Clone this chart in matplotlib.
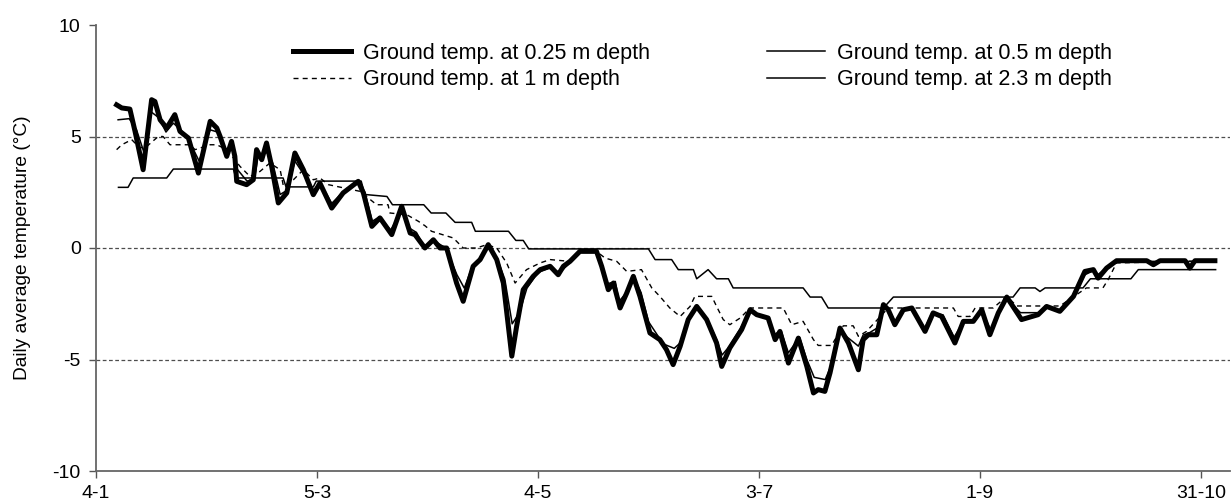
import matplotlib
matplotlib.use("Agg")
import matplotlib.pyplot as plt

plt.rcParams['font.family'] = ['Liberation Sans', 'DejaVu Sans']
plt.rcParams['axes.unicode_minus'] = False

# days counted from 4 January
tick_days = [0, 60, 120, 180, 240, 300]
tick_labels = ['4-1', '5-3', '4-5', '3-7', '1-9', '31-10']

# ground temperature at 0.25 m depth
days_025 = [5.6, 7.0, 9.2, 10.6, 12.8, 15.1, 16.0, 17.4, 19.2, 21.4, 22.8, 25.1, 27.8,
            31.0, 32.8, 33.7, 35.5, 36.8, 37.7, 38.2, 40.9, 42.7, 43.6, 45.0, 46.3, 47.7,
            49.5, 51.8, 54.0, 56.3, 59.0, 60.8, 64.0, 67.1, 71.2, 72.6, 74.9, 77.1, 80.3,
            83.0, 85.3, 86.6, 89.3, 91.6, 93.4, 95.2, 97.9, 99.7, 102.4, 104.3, 106.5,
            108.8, 110.6, 112.9, 114.2, 116.0, 118.7, 120.6, 123.3, 125.5, 126.9, 128.7,
            131.4, 135.9, 137.3, 139.1, 140.5, 142.3, 144.1, 145.9, 147.7, 150.4, 153.1,
            154.9, 156.7, 158.6, 160.8, 163.1, 165.8, 168.5, 169.9, 172.1, 175.3, 177.6,
            179.4, 182.5, 184.4, 185.7, 188.0, 190.7, 193.0, 194.8, 196.1, 197.9, 199.3,
            202.0, 204.3, 207.0, 208.3, 209.7, 212.0, 213.8, 215.1, 216.9, 219.2, 221.5,
            225.1, 227.3, 229.6, 233.2, 235.5, 238.2, 240.5, 242.7, 245.0, 247.3, 251.3,
            255.8, 258.1, 261.7, 265.4, 268.5, 270.8, 272.1, 274.4, 277.1, 285.3, 287.1,
            288.9, 295.7, 297.0, 298.4, 303.8]
temp_025 = [6.42, 6.28, 6.23, 5.23, 3.51, 6.65, 6.57, 5.75, 5.38, 5.98, 5.23, 4.93, 3.36,
            5.68, 5.38, 5.0, 4.11, 4.78, 4.11, 2.99, 2.84, 3.06, 4.41, 3.96, 4.71, 3.66,
            2.02, 2.47, 4.26, 3.51, 2.39, 2.91, 1.79, 2.47, 2.99, 2.47, 0.97, 1.35, 0.6,
            1.87, 0.67, 0.6, 0.0, 0.37, 0.0, 0.0, -1.57, -2.39, -0.82, -0.52, 0.15,
            -0.52, -1.57, -4.85, -3.52, -1.87, -1.27, -0.97, -0.82, -1.2, -0.82, -0.6,
            -0.15, -0.15, -0.82, -1.87, -1.57, -2.69, -2.02, -1.27, -2.17, -3.81, -4.11,
            -4.56, -5.23, -4.41, -3.21, -2.62, -3.21, -4.26, -5.31, -4.48, -3.66, -2.77,
            -2.99, -3.14, -4.11, -3.74, -5.16, -4.04, -5.31, -6.5, -6.35, -6.43, -5.6,
            -3.59, -4.26, -5.46, -4.11, -3.89, -3.89, -2.54, -2.77, -3.44, -2.77, -2.69,
            -3.74, -2.91, -3.07, -4.26, -3.29, -3.29, -2.77, -3.89, -2.91, -2.2, -3.21,
            -2.99, -2.62, -2.84, -2.17, -1.05, -0.97, -1.35, -0.9, -0.57, -0.57, -0.75,
            -0.57, -0.57, -0.9, -0.57, -0.57]

# ground temperature at 0.5 m depth
days_05 = [6, 9, 11, 13, 15, 17, 19, 21, 23, 25, 28, 31, 33, 35, 37, 38, 41, 43, 44, 45,
           46, 48, 50, 52, 54, 56, 59, 61, 64, 67, 71, 73, 75, 77, 80, 83, 85, 87, 89, 92,
           95, 98, 100, 102, 104, 106.5, 109, 111, 113, 115, 117, 120, 123, 126, 129, 131,
           136, 137, 139, 141, 142, 144, 146, 148, 150, 154, 157, 159, 161, 163, 166, 168.5,
           170, 172, 175, 177.6, 179, 182.5, 184, 186, 188, 191, 193, 195, 198, 199.5, 202,
           204, 207, 208.3, 210, 212, 214, 215, 217, 219, 221.5, 225, 227, 230, 233, 235.5,
           238, 240.5, 243, 245, 247, 251, 256, 258, 262, 265, 268.5, 271, 272, 274.4, 277,
           304]
temp_05 = [5.75, 5.8, 5.3, 4.3, 6.1, 5.85, 5.2, 5.6, 5.3, 4.9, 3.9, 5.3, 5.2, 4.4, 4.6,
           3.6, 3.0, 3.1, 4.1, 3.9, 4.4, 3.8, 2.4, 2.6, 3.9, 3.4, 2.6, 2.9, 2.0, 2.5, 2.9,
           2.5, 1.2, 1.4, 0.8, 1.7, 0.9, 0.7, 0.1, 0.3, 0.0, -1.2, -1.8, -0.9, -0.5, 0.1,
           -0.5, -1.4, -3.4, -2.9, -1.8, -1.1, -0.9, -1.1, -0.6, -0.2, -0.2, -0.7, -1.6,
           -1.5, -2.4, -2.0, -1.3, -2.0, -3.3, -4.3, -4.5, -4.2, -3.2, -2.7, -3.2, -4.1,
           -4.8, -4.4, -3.6, -2.8, -3.0, -3.1, -3.9, -3.7, -4.7, -4.0, -5.0, -5.8, -5.9,
           -5.3, -3.6, -4.0, -4.4, -3.9, -3.8, -3.6, -2.6, -2.7, -3.3, -2.8, -2.7, -3.6,
           -2.9, -3.0, -4.0, -3.3, -3.3, -2.8, -3.7, -2.9, -2.2, -2.9, -2.9, -2.6, -2.8,
           -2.2, -1.2, -1.0, -1.2, -0.9, -0.6, -0.6]

# ground temperature at 1 m depth
days_1 = [5.6, 7.0, 9.7, 11.9, 14.1, 16.9, 18.2, 20.1, 25.5, 26.9, 31.0, 32.8, 35.5, 37.3,
          39.1, 41.8, 44.5, 47.2, 50.0, 50.9, 53.6, 56.3, 59.0, 60.8, 63.1, 71.7, 76.2,
          79.3, 79.8, 84.4, 87.5, 89.3, 91.1, 97.0, 99.7, 103.3, 106.1, 108.8, 111.5,
          113.8, 116.9, 120.6, 123.3, 128.7, 131.4, 135.9, 138.2, 141.4, 144.1, 148.1,
          150.9, 153.1, 155.8, 158.6, 161.3, 162.6, 167.2, 168.5, 170.3, 172.1, 174.9,
          177.6, 186.6, 188.9, 192.0, 194.8, 196.1, 199.7, 202.9, 205.6, 207.0, 209.2,
          215.1, 232.8, 234.1, 237.3, 238.7, 243.6, 247.3, 250.0, 261.7, 265.3, 268.9,
          273.4, 274.8, 277.1, 303.8]
temp_1 = [4.41, 4.63, 4.86, 4.48, 4.6, 5.0, 5.0, 4.63, 4.63, 4.41, 4.63, 4.63, 4.41, 4.04,
          3.66, 3.21, 3.43, 3.81, 3.51, 2.76, 3.06, 3.51, 3.06, 3.14, 2.84, 2.54, 1.94,
          1.94, 1.57, 1.49, 1.2, 1.0, 0.75, 0.45, 0.0, 0.0, 0.15, 0.0, -0.67, -1.57,
          -0.97, -0.67, -0.52, -0.6, -0.15, -0.15, -0.45, -0.6, -1.05, -0.97, -1.79,
          -2.17, -2.69, -3.07, -2.62, -2.17, -2.17, -2.62, -3.21, -3.44, -3.14, -2.69,
          -2.69, -3.44, -3.29, -4.11, -4.37, -4.37, -3.49, -3.49, -3.96, -3.74, -2.69,
          -2.69, -3.07, -3.07, -2.69, -2.69, -2.17, -2.6, -2.6, -2.2, -1.79, -1.79,
          -1.42, -0.67, -0.57]

# ground temperature at 2.3 m depth
days_23 = [6.1, 8.7, 10.1, 19.2, 21.0, 37.3, 38.0, 50.8, 51.6, 59.0, 59.8, 72.0, 73.0,
           79.0, 80.5, 89.0, 91.0, 95.0, 97.5, 102.0, 103.0, 112.0, 114.0, 116.0, 117.5,
           150.0, 151.8, 156.3, 158.1, 162.2, 163.1, 166.2, 168.5, 171.7, 173.0, 192.0,
           193.9, 197.0, 198.8, 213.8, 216.5, 249.0, 250.9, 255.0, 256.3, 257.7, 268.0,
           270.0, 281.0, 283.0, 304.0]
temp_23 = [2.72, 2.72, 3.14, 3.14, 3.54, 3.54, 3.14, 3.14, 2.74, 2.74, 3.0, 3.0, 2.4,
           2.31, 1.94, 1.94, 1.57, 1.57, 1.15, 1.15, 0.75, 0.75, 0.34, 0.34, -0.04,
           -0.04, -0.52, -0.52, -0.97, -0.97, -1.38, -0.97, -1.38, -1.38, -1.79, -1.79,
           -2.2, -2.2, -2.69, -2.69, -2.2, -2.2, -1.79, -1.79, -1.95, -1.79, -1.79,
           -1.38, -1.38, -0.97, -0.97]

W, H = 1231, 503
fig = plt.figure(figsize=(W / 100, H / 100), dpi=100)
ax = fig.add_axes([96 / W, 1 - 471 / H, (1230 - 96) / W, (471 - 25) / H])

for y in (-5, 0, 5):
    ax.axhline(y, color='#4d4d4d', lw=0.9, dashes=(3, 2), zorder=1)

l23, = ax.plot(days_23, temp_23, color='black', lw=1.1, zorder=2)
l1, = ax.plot(days_1, temp_1, color='black', lw=1.0, dashes=(3.6, 3), zorder=3)
l05, = ax.plot(days_05, temp_05, color='black', lw=1.1, zorder=4)
l025, = ax.plot(days_025, temp_025, color='black', lw=3.6, zorder=5,
                solid_joinstyle='round')

ax.set_xlim(0, (1230 - 96) / 3.683)
ax.set_ylim(-10, 10)
ax.set_xticks(tick_days)
ax.set_xticklabels(tick_labels)
ax.set_yticks([-10, -5, 0, 5, 10])
ax.tick_params(axis='both', labelsize=14, color='#555555', length=5, width=1)
ax.tick_params(axis='y', pad=6)
ax.tick_params(axis='x', pad=5)
for side in ['top', 'right']:
    ax.spines[side].set_visible(False)
for side in ['left', 'bottom']:
    ax.spines[side].set_color('#666666')
    ax.spines[side].set_linewidth(1.3)

fig.text(23 / W, 1 - 248 / H, 'Daily average temperature (°C)', rotation=90,
         ha='center', va='center', fontsize=13.8)

# two separate legend columns
leg_kw = dict(frameon=False, fontsize=15.5, handlelength=2.7, handletextpad=0.55,
              labelspacing=0.25, borderpad=0, borderaxespad=0, loc='upper left')
leg1 = ax.legend([l025, l1], ['Ground temp. at 0.25 m depth', 'Ground temp. at 1 m depth'],
                 bbox_to_anchor=(293 / W, 1 - 43 / H), bbox_transform=fig.transFigure, **leg_kw)
ax.add_artist(leg1)
ax.legend([l05, l23], ['Ground temp. at 0.5 m depth', 'Ground temp. at 2.3 m depth'],
          bbox_to_anchor=(767 / W, 1 - 43 / H), bbox_transform=fig.transFigure, **leg_kw)

fig.savefig('out.png', dpi=100)
